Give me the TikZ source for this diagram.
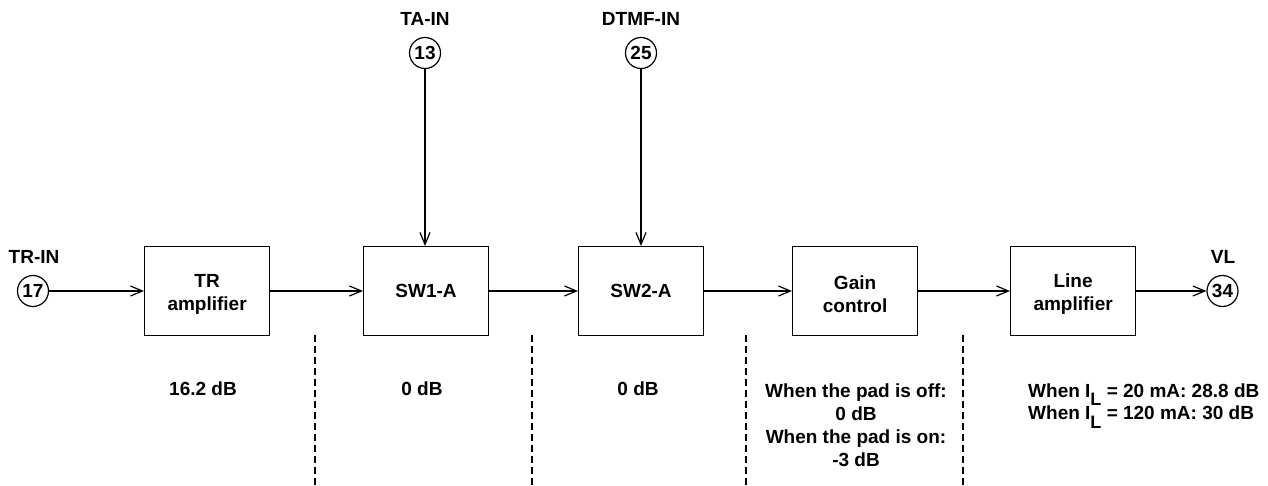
\documentclass[tikz,border=0pt]{standalone}
\usepackage{fontspec}
\setmainfont{Liberation Sans}
\usetikzlibrary{arrows.meta,calc}
\tikzset{
  lw/.style={line width=1.2pt},
  blk/.style={draw,lw,minimum width=125pt,minimum height=89pt,inner sep=0pt,anchor=north west},
  txt/.style={inner sep=0pt,font=\fontsize{19}{23}\selectfont\bfseries,align=center},
  pin/.style={draw,lw,circle,minimum size=31pt,inner sep=0pt,font=\fontsize{19}{23}\selectfont\bfseries},
  sig/.style={lw,-{Straight Barb[length=12pt,width=10pt,line width=1.2pt]}},
  sep/.style={lw,dash pattern=on 6.5pt off 4.5pt}
}
\newcommand{\subL}{\raisebox{-8.5pt}[0pt][0pt]{\fontsize{18}{18}\selectfont L}}
\begin{document}
\begin{tikzpicture}[x=1pt,y=-1pt]
\useasboundingbox (0,0) rectangle (1268,486);
% boxes
\node[blk] (tr) at (144,246) {};
\node[blk] (sw1) at (363,246) {};
\node[blk] (sw2) at (578,246) {};
\node[blk] (gc) at (792,246) {};
\node[blk] (la) at (1010,246) {};
\node[txt] (trt) at ($(tr.center)+(0,3)$) {TR\\amplifier};
\node[txt] (sw1t) at (sw1.center) {SW1-A};
\node[txt] (sw2t) at (sw2.center) {SW2-A};
\node[txt] (gct) at ($(gc.center)+(0,3)$) {Gain\\control};
\node[txt] (lat) at ($(la.center)+(0,3)$) {Line\\amplifier};
% pins
\node[pin] (p17) at (33,291) {17};
\node[pin] (p13) at (425,53) {13};
\node[pin] (p25) at (641,53) {25};
\node[pin] (p34) at (1222.5,291) {34};
\node[txt] (l17) at (34,257) {TR-IN};
\node[txt] (l13) at (425,18.5) {TA-IN};
\node[txt] (l25) at (641,18.5) {DTMF-IN};
\node[txt] (l34) at (1223,257) {VL};
% signal arrows
\draw[sig] (p17.east) -- (p17.east -| tr.west);
\draw[sig] (tr.east |- p17.east) -- (sw1.west |- p17.east);
\draw[sig] (sw1.east |- p17.east) -- (sw2.west |- p17.east);
\draw[sig] (sw2.east |- p17.east) -- (gc.west |- p17.east);
\draw[sig] (gc.east |- p17.east) -- (la.west |- p17.east);
\draw[sig] (la.east |- p34.west) -- (p34.west);
\draw[sig] (p13.south) -- (p13.south |- sw1.north);
\draw[sig] (p25.south) -- (p25.south |- sw2.north);
% separators
\coordinate (d1a) at (315,335); \coordinate (d1b) at (315,486);
\coordinate (d2a) at (532,335); \coordinate (d2b) at (532,486);
\coordinate (d3a) at (746,335); \coordinate (d3b) at (746,486);
\coordinate (d4a) at (963,335); \coordinate (d4b) at (963,486);
\draw[sep] (d1a) -- (d1b);
\draw[sep] (d2a) -- (d2b);
\draw[sep] (d3a) -- (d3b);
\draw[sep] (d4a) -- (d4b);
% gains
\node[txt] (g1) at (203,389) {16.2 dB};
\node[txt] (g2) at (422,389) {0 dB};
\node[txt] (g3) at (638,389) {0 dB};
\node[txt] (g4) at (856,425.5) {When the pad is off:\\0 dB\\When the pad is on:\\-3 dB};
\node[txt,align=left,anchor=north west,font=\fontsize{19}{22.5}\selectfont\bfseries] (g5) at (1028,383.3)
  {When I\subL{} = 20 mA: 28.8 dB\\
   When I\subL{} = 120 mA: 30 dB};
\end{tikzpicture}
\end{document}
